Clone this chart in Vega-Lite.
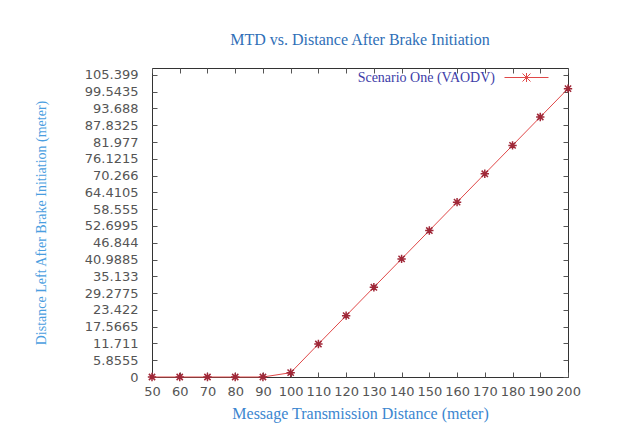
{
  "$schema": "https://vega.github.io/schema/vega-lite/v6.json",
  "width": 416,
  "height": 309,
  "autosize": {"type": "none"},
  "padding": {"left": 152, "top": 68, "right": 49, "bottom": 67},
  "background": "white",
  "config": {
    "view": {"stroke": "#333333", "strokeWidth": 1},
    "axis": {
      "grid": false,
      "domain": false,
      "tickColor": "#555555",
      "tickSize": -5,
      "labelFont": "DejaVu Sans",
      "labelFontSize": 13,
      "labelColor": "#555555",
      "titleFont": "Liberation Serif",
      "titleFontWeight": "normal"
    }
  },
  "title": {
    "text": "MTD vs. Distance After Brake Initiation",
    "font": "Liberation Serif",
    "fontSize": 16,
    "fontWeight": "normal",
    "color": "#2f6fb7",
    "anchor": "middle",
    "offset": 19
  },
  "data": {
    "values": [
      {"d": 50, "v": 0, "series": "Scenario One (VAODV)"},
      {"d": 60, "v": 0, "series": "Scenario One (VAODV)"},
      {"d": 70, "v": 0, "series": "Scenario One (VAODV)"},
      {"d": 80, "v": 0, "series": "Scenario One (VAODV)"},
      {"d": 90, "v": 0, "series": "Scenario One (VAODV)"},
      {"d": 100, "v": 1.5, "series": "Scenario One (VAODV)"},
      {"d": 110, "v": 11.5, "series": "Scenario One (VAODV)"},
      {"d": 120, "v": 21.4, "series": "Scenario One (VAODV)"},
      {"d": 130, "v": 31.3, "series": "Scenario One (VAODV)"},
      {"d": 140, "v": 41.2, "series": "Scenario One (VAODV)"},
      {"d": 150, "v": 51.1, "series": "Scenario One (VAODV)"},
      {"d": 160, "v": 61.0, "series": "Scenario One (VAODV)"},
      {"d": 170, "v": 70.9, "series": "Scenario One (VAODV)"},
      {"d": 180, "v": 80.8, "series": "Scenario One (VAODV)"},
      {"d": 190, "v": 90.7, "series": "Scenario One (VAODV)"},
      {"d": 200, "v": 100.6, "series": "Scenario One (VAODV)"}
    ]
  },
  "layer": [
    {
      "mark": {"type": "line", "strokeWidth": 1, "clip": false},
      "encoding": {
        "x": {
          "field": "d", "type": "quantitative",
          "scale": {"domain": [50, 200], "nice": false, "zero": false},
          "axis": {
            "orient": "bottom",
            "values": [50, 60, 70, 80, 90, 100, 110, 120, 130, 140, 150, 160, 170, 180, 190, 200],
            "labelPadding": 13,
            "labelFlush": false,
            "labelOverlap": false,
            "labelExpr": "'' + datum.value",
            "title": "Message Transmission Distance (meter)",
            "titleFontSize": 16,
            "titleColor": "#3b86d0",
            "titlePadding": 7
          }
        },
        "y": {
          "field": "v", "type": "quantitative",
          "scale": {"domain": [0, 107.8], "nice": false},
          "axis": {
            "orient": "left",
            "values": [0, 5.8555, 11.711, 17.5665, 23.422, 29.2775, 35.133, 40.9885, 46.844, 52.6995, 58.555, 64.4105, 70.266, 76.1215, 81.977, 87.8325, 93.688, 99.5435, 105.399],
            "labelPadding": 19,
            "labelOverlap": false,
            "labelExpr": "'' + datum.value",
            "title": "Distance Left After Brake Initiation (meter)",
            "titleFontSize": 14,
            "titleColor": "#4a9ee0",
            "titlePadding": 36
          }
        },
        "color": {
          "field": "series", "type": "nominal",
          "scale": {"range": ["#e04848"]},
          "legend": {
            "orient": "none",
            "legendX": 364,
            "legendY": -1,
            "padding": 0,
            "title": null,
            "symbolType": "M-2.2,0L2.2,0M-0.4,-0.4L0.4,0.4M-0.4,0.4L0.4,-0.4M0,-0.45L0,0.45M-0.45,0L0.45,0",
            "symbolSize": 400,
            "symbolStrokeWidth": 1,
            "symbolFillColor": "transparent",
            "labelAlign": "right",
            "labelOffset": -42,
            "labelFont": "Liberation Serif",
            "labelFontSize": 14,
            "labelColor": "#3d3da8"
          }
        }
      }
    },
    {
      "mark": {
        "type": "point",
        "shape": "M-1,0L1,0M0,-1L0,1M-0.75,-0.75L0.75,0.75M-0.75,0.75L0.75,-0.75",
        "filled": false,
        "size": 70,
        "strokeWidth": 1.5,
        "color": "#a02838",
        "opacity": 1,
        "clip": false
      },
      "encoding": {
        "x": {"field": "d", "type": "quantitative", "axis": {"orient": "top", "labels": false, "title": null, "values": [50, 60, 70, 80, 90, 100, 110, 120, 130, 140, 150, 160, 170, 180, 190, 200]}},
        "y": {"field": "v", "type": "quantitative", "axis": {"orient": "right", "labels": false, "title": null, "values": [0, 5.8555, 11.711, 17.5665, 23.422, 29.2775, 35.133, 40.9885, 46.844, 52.6995, 58.555, 64.4105, 70.266, 76.1215, 81.977, 87.8325, 93.688, 99.5435, 105.399]}}
      }
    }
  ],
  "resolve": {"axis": {"x": "independent", "y": "independent"}}
}
